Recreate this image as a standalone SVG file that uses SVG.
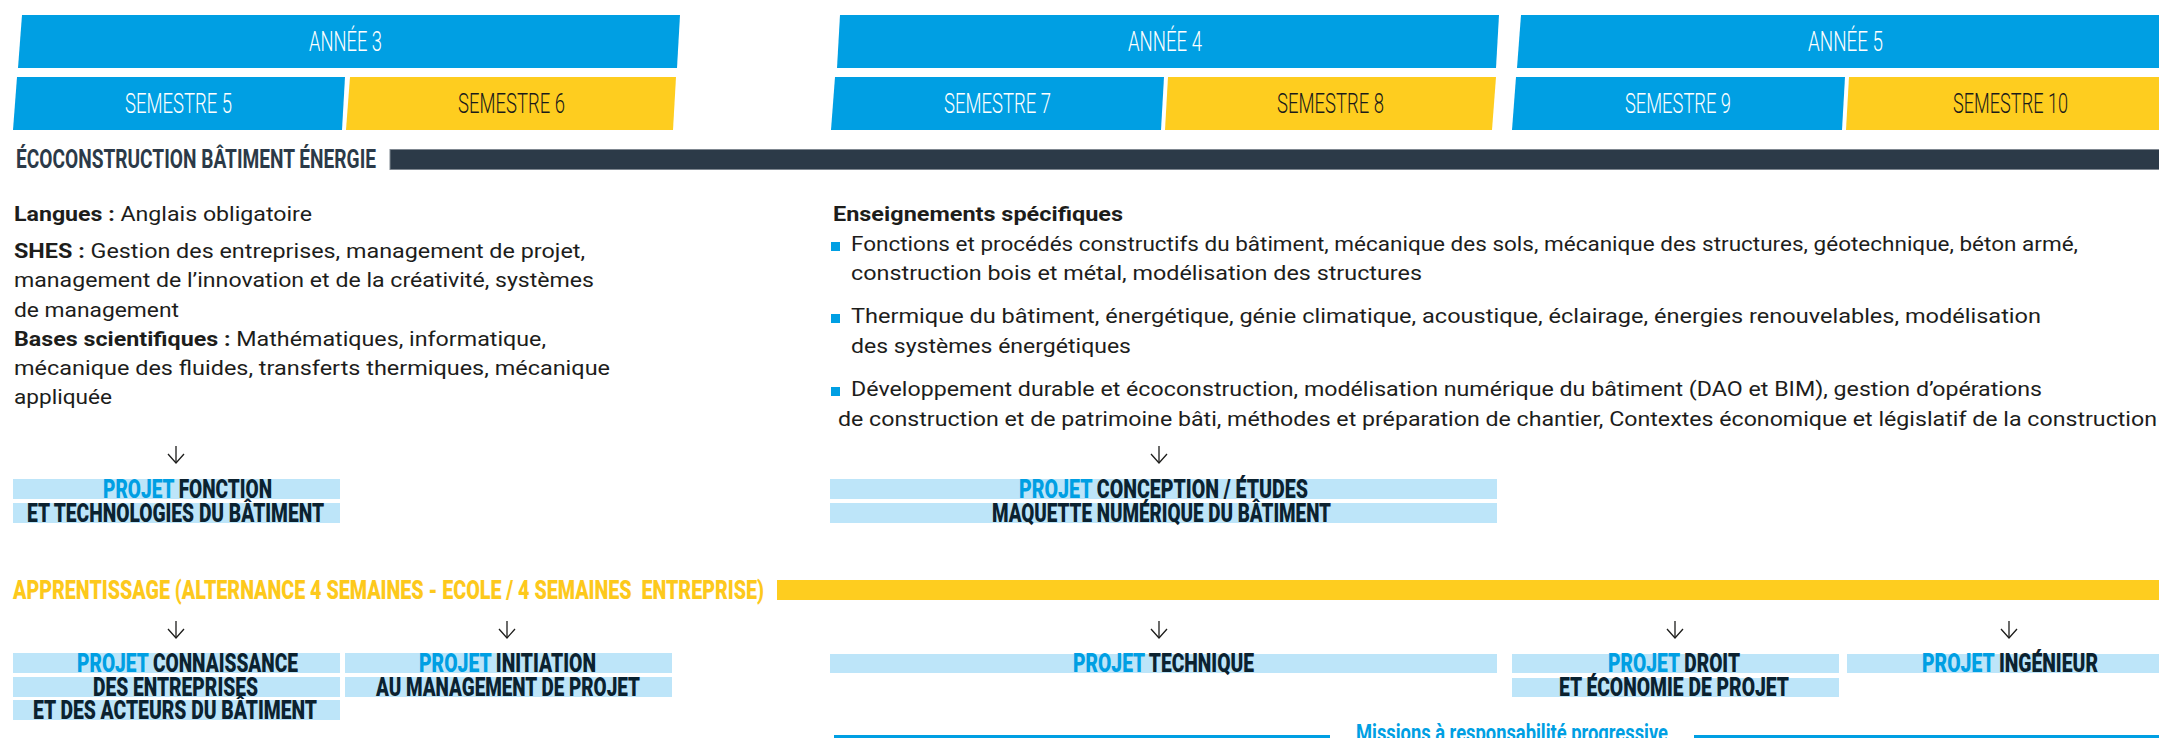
<svg xmlns="http://www.w3.org/2000/svg" width="2159" height="738" viewBox="0 0 2159 738">
  <style>
    .blue { fill: #009fe3; }
    .yellow { fill: #fecd1f; }
    .hdr { font-family: Roboto, "Liberation Sans", sans-serif; font-weight: 300; font-size: 28px; }
    .white { fill: #ffffff; }
    .ink { fill: #1a1a1a; }
    .ttl { font-family: Roboto, "Liberation Sans", sans-serif; font-weight: 700; font-size: 25px; fill: #2c3a48; }
    .body { font-family: Roboto, "Liberation Sans", sans-serif; font-weight: 400; font-size: 21px; fill: #1d1d1b; }
    .b { font-weight: 700; }
    .pbox { fill: #bde5f9; }
    .plab { font-family: Roboto, "Liberation Sans", sans-serif; font-weight: 900; font-size: 25px; fill: #0b2230; }
    .pj { fill: #009fe3; }
    .app { font-family: Roboto, "Liberation Sans", sans-serif; font-weight: 900; font-size: 25px; fill: #fdc91c; white-space: pre; }
    .miss { font-family: Roboto, "Liberation Sans", sans-serif; font-weight: 700; font-size: 24px; fill: #009fe3; }
    .arrow { stroke: #1d1d1b; stroke-width: 1.3; fill: none; marker-end: url(#ah); }
  </style>
  <defs>
    <marker id="ah" viewBox="0 0 12 18" markerWidth="12" markerHeight="18" refX="10" refY="9" orient="auto" markerUnits="userSpaceOnUse">
      <path d="M1,1 L10,9 L1,17" fill="none" stroke="#1d1d1b" stroke-width="1.3"/>
    </marker>
  </defs>

  <rect width="2159" height="738" fill="#ffffff"/>

  <!-- Year / semester header bands -->
  <g id="annee-3">
    <polygon class="blue" points="22,15 680,15 677,68 18,68"/>
    <text class="hdr white" x="309" y="51" textLength="73" lengthAdjust="spacingAndGlyphs">ANNÉE 3</text>
  </g>
  <g id="semestre-5">
    <polygon class="blue" points="17,77 345,77 342,130 13,130"/>
    <text class="hdr white" x="125" y="113" textLength="107" lengthAdjust="spacingAndGlyphs">SEMESTRE 5</text>
  </g>
  <g id="semestre-6">
    <polygon class="yellow" points="350,77 676,77 673,130 346,130"/>
    <text class="hdr ink" x="458" y="113" textLength="107" lengthAdjust="spacingAndGlyphs">SEMESTRE 6</text>
  </g>
  <g id="annee-4">
    <polygon class="blue" points="840,15 1499,15 1496,68 837,68"/>
    <text class="hdr white" x="1128" y="51" textLength="74" lengthAdjust="spacingAndGlyphs">ANNÉE 4</text>
  </g>
  <g id="semestre-7">
    <polygon class="blue" points="835,77 1164,77 1161,130 831,130"/>
    <text class="hdr white" x="944" y="113" textLength="107" lengthAdjust="spacingAndGlyphs">SEMESTRE 7</text>
  </g>
  <g id="semestre-8">
    <polygon class="yellow" points="1168,77 1496,77 1492,130 1165,130"/>
    <text class="hdr ink" x="1277" y="113" textLength="107" lengthAdjust="spacingAndGlyphs">SEMESTRE 8</text>
  </g>
  <g id="annee-5">
    <polygon class="blue" points="1521,15 2175,15 2172,68 1517,68"/>
    <text class="hdr white" x="1808" y="51" textLength="75" lengthAdjust="spacingAndGlyphs">ANNÉE 5</text>
  </g>
  <g id="semestre-9">
    <polygon class="blue" points="1516,77 1845,77 1842,130 1512,130"/>
    <text class="hdr white" x="1625" y="113" textLength="106" lengthAdjust="spacingAndGlyphs">SEMESTRE 9</text>
  </g>
  <g id="semestre-10">
    <polygon class="yellow" points="1849,77 2175,77 2172,130 1846,130"/>
    <text class="hdr ink" x="1953" y="113" textLength="115" lengthAdjust="spacingAndGlyphs">SEMESTRE 10</text>
  </g>

  <!-- Track title -->
  <g id="track-ebe">
    <text class="ttl" x="16" y="168" textLength="360" lengthAdjust="spacingAndGlyphs">ÉCOCONSTRUCTION BÂTIMENT ÉNERGIE</text>
    <rect x="390" y="149.5" width="1780" height="20" fill="#2c3a48" stroke="#7f8790" stroke-width="1"/>
  </g>

  <!-- Common core, year 3 -->
  <g id="tronc-commun">
    <text class="body" x="14" y="221" textLength="298" lengthAdjust="spacingAndGlyphs"><tspan class="b">Langues :</tspan> Anglais obligatoire</text>
    <text class="body" x="14" y="258" textLength="571" lengthAdjust="spacingAndGlyphs"><tspan class="b">SHES :</tspan> Gestion des entreprises, management de projet,</text>
    <text class="body" x="14" y="287" textLength="580" lengthAdjust="spacingAndGlyphs">management de l’innovation et de la créativité, systèmes</text>
    <text class="body" x="14" y="317" textLength="165" lengthAdjust="spacingAndGlyphs">de management</text>
    <text class="body" x="14" y="346" textLength="532" lengthAdjust="spacingAndGlyphs"><tspan class="b">Bases scientifiques :</tspan> Mathématiques, informatique,</text>
    <text class="body" x="14" y="375" textLength="596" lengthAdjust="spacingAndGlyphs">mécanique des fluides, transferts thermiques, mécanique</text>
    <text class="body" x="14" y="404" textLength="98" lengthAdjust="spacingAndGlyphs">appliquée</text>
  </g>

  <!-- Specific courses, years 4-5 -->
  <g id="enseignements-specifiques">
    <text class="body b" x="833" y="221" textLength="290" lengthAdjust="spacingAndGlyphs">Enseignements spécifiques</text>
    <rect class="blue" x="831" y="242" width="9" height="9"/>
    <text class="body" x="851" y="251" textLength="1227" lengthAdjust="spacingAndGlyphs">Fonctions et procédés constructifs du bâtiment, mécanique des sols, mécanique des structures, géotechnique, béton armé,</text>
    <text class="body" x="851" y="280" textLength="571" lengthAdjust="spacingAndGlyphs">construction bois et métal, modélisation des structures</text>
    <rect class="blue" x="831" y="314" width="9" height="9"/>
    <text class="body" x="851" y="323" textLength="1190" lengthAdjust="spacingAndGlyphs">Thermique du bâtiment, énergétique, génie climatique, acoustique, éclairage, énergies renouvelables, modélisation</text>
    <text class="body" x="851" y="353" textLength="280" lengthAdjust="spacingAndGlyphs">des systèmes énergétiques</text>
    <rect class="blue" x="831" y="387" width="9" height="9"/>
    <text class="body" x="851" y="396" textLength="1191" lengthAdjust="spacingAndGlyphs">Développement durable et écoconstruction, modélisation numérique du bâtiment (DAO et BIM), gestion d’opérations</text>
    <text class="body" x="838" y="426" textLength="1319" lengthAdjust="spacingAndGlyphs">de construction et de patrimoine bâti, méthodes et préparation de chantier, Contextes économique et législatif de la construction</text>
  </g>

  <!-- Projects, academic track -->
  <g id="projet-fonction">
    <rect class="pbox" x="13" y="479" width="327" height="20"/>
    <rect class="pbox" x="13" y="503" width="327" height="20"/>
    <text class="plab" x="103" y="498" textLength="169" lengthAdjust="spacingAndGlyphs"><tspan class="pj">PROJET</tspan> FONCTION</text>
    <text class="plab" x="27" y="522" textLength="297" lengthAdjust="spacingAndGlyphs">ET TECHNOLOGIES DU BÂTIMENT</text>
  </g>
  <g id="projet-conception">
    <rect class="pbox" x="830" y="479" width="667" height="20"/>
    <rect class="pbox" x="830" y="503" width="667" height="20"/>
    <text class="plab" x="1019" y="498" textLength="289" lengthAdjust="spacingAndGlyphs"><tspan class="pj">PROJET</tspan> CONCEPTION / ÉTUDES</text>
    <text class="plab" x="992" y="522" textLength="339" lengthAdjust="spacingAndGlyphs">MAQUETTE NUMÉRIQUE DU BÂTIMENT</text>
  </g>

  <!-- Apprenticeship track title -->
  <g id="track-apprentissage">
    <text class="app" x="13" y="599" textLength="751" lengthAdjust="spacingAndGlyphs">APPRENTISSAGE (ALTERNANCE 4 SEMAINES - ECOLE / 4 SEMAINES  ENTREPRISE)</text>
    <rect class="yellow" x="777" y="580" width="1400" height="20"/>
  </g>

  <!-- Projects, apprenticeship track -->
  <g id="projet-connaissance">
    <rect class="pbox" x="13" y="653" width="327" height="20"/>
    <rect class="pbox" x="13" y="677" width="327" height="20"/>
    <rect class="pbox" x="13" y="700" width="327" height="20"/>
    <text class="plab" x="77" y="672" textLength="221" lengthAdjust="spacingAndGlyphs"><tspan class="pj">PROJET</tspan> CONNAISSANCE</text>
    <text class="plab" x="93" y="696" textLength="165" lengthAdjust="spacingAndGlyphs">DES ENTREPRISES</text>
    <text class="plab" x="33" y="719" textLength="284" lengthAdjust="spacingAndGlyphs">ET DES ACTEURS DU BÂTIMENT</text>
  </g>
  <g id="projet-initiation">
    <rect class="pbox" x="345" y="653" width="327" height="20"/>
    <rect class="pbox" x="345" y="677" width="327" height="20"/>
    <text class="plab" x="419" y="672" textLength="177" lengthAdjust="spacingAndGlyphs"><tspan class="pj">PROJET</tspan> INITIATION</text>
    <text class="plab" x="376" y="696" textLength="264" lengthAdjust="spacingAndGlyphs">AU MANAGEMENT DE PROJET</text>
  </g>
  <g id="projet-technique">
    <rect class="pbox" x="830" y="654" width="667" height="19"/>
    <text class="plab" x="1073" y="672" textLength="181" lengthAdjust="spacingAndGlyphs"><tspan class="pj">PROJET</tspan> TECHNIQUE</text>
  </g>
  <g id="projet-droit">
    <rect class="pbox" x="1512" y="654" width="327" height="19"/>
    <rect class="pbox" x="1512" y="678" width="327" height="19"/>
    <text class="plab" x="1608" y="672" textLength="132" lengthAdjust="spacingAndGlyphs"><tspan class="pj">PROJET</tspan> DROIT</text>
    <text class="plab" x="1559" y="696" textLength="230" lengthAdjust="spacingAndGlyphs">ET ÉCONOMIE DE PROJET</text>
  </g>
  <g id="projet-ingenieur">
    <rect class="pbox" x="1847" y="654" width="330" height="19"/>
    <text class="plab" x="1922" y="672" textLength="176" lengthAdjust="spacingAndGlyphs"><tspan class="pj">PROJET</tspan> INGÉNIEUR</text>
  </g>

  <!-- Progressive missions timeline -->
  <g id="missions">
    <rect class="blue" x="834" y="735" width="496" height="3"/>
    <text class="miss" x="1356" y="741" textLength="312" lengthAdjust="spacingAndGlyphs">Missions à responsabilité progressive</text>
    <rect class="blue" x="1694" y="735" width="480" height="3"/>
  </g>

  <!-- Connectors -->
  <g id="connectors">
    <line class="arrow" x1="176" y1="446" x2="176" y2="463"/>
    <line class="arrow" x1="1159" y1="446" x2="1159" y2="463"/>
    <line class="arrow" x1="176" y1="621" x2="176" y2="638"/>
    <line class="arrow" x1="507" y1="621" x2="507" y2="638"/>
    <line class="arrow" x1="1159" y1="621" x2="1159" y2="638"/>
    <line class="arrow" x1="1675" y1="621" x2="1675" y2="638"/>
    <line class="arrow" x1="2009" y1="621" x2="2009" y2="638"/>
  </g>
</svg>
